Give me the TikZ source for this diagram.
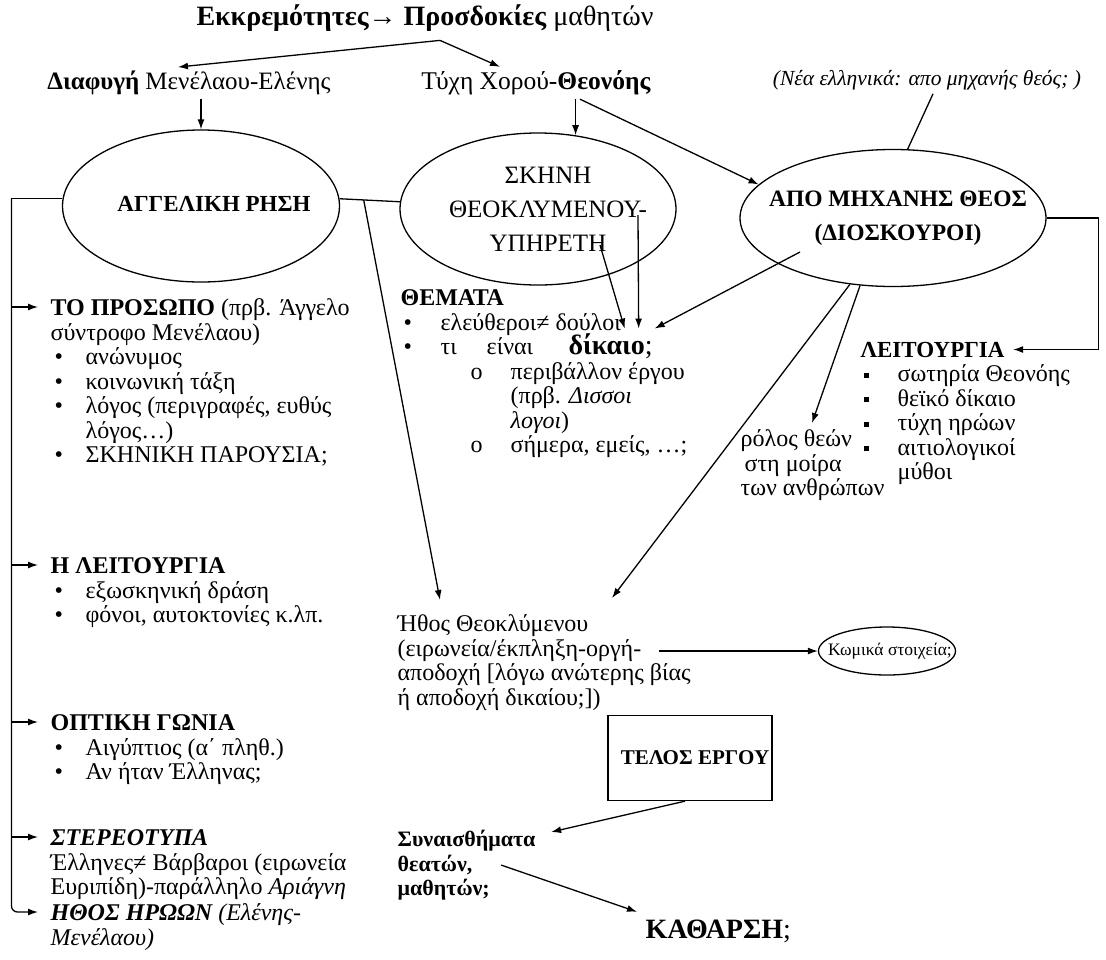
\documentclass[tikz,border=0pt]{standalone}
\usepackage{fontspec}
\setmainfont{Liberation Serif}
\usetikzlibrary{shapes.geometric, arrows.meta, calc}
\newcommand{\itm}[2]{\makebox[#2pt][l]{\hspace{#1pt}•}}
\newcommand{\sqitm}[2]{\makebox[#2pt][l]{\hspace{#1pt}\raisebox{4pt}{\rule{5pt}{5pt}}}}
\newcommand{\zb}[1]{\makebox[0pt]{#1}}

\begin{document}
\begin{tikzpicture}[x=1pt,y=-1pt,>={Latex[length=10pt,width=7pt]},line width=1.3pt,
  txt/.style={inner sep=0pt,align=left,anchor=north west,font=\fontsize{24}{24.5}\selectfont},
  hd/.style={inner sep=0pt,anchor=base west,font=\fontsize{23}{23}\selectfont\bfseries},
  oval/.style={draw,ellipse,inner sep=0pt,align=center}]
  \useasboundingbox (0,0) rectangle (1106,959);

  \node(title) at (425,18) [font=\fontsize{28}{28}\selectfont]{\textbf{Εκκρεμότητες→ Προσδοκίες} μαθητών};
  \node(esc) at (189,83) [font=\fontsize{25}{25}\selectfont]{\textbf{Διαφυγή} Μενέλαου-Ελένης};
  \node(fate) at (536,83) [font=\fontsize{25.5}{25}\selectfont]{Τύχη Χορού-\textbf{Θεονόης}};
  \node(nea) at (927,80) [font=\fontsize{21.5}{22}\selectfont\itshape]{(Νέα ελληνικά: απο μηχανής θεός; )};

  \node(angel) at (201,206) [oval,minimum width=277pt,minimum height=152pt,font=\fontsize{23}{23}\selectfont\bfseries]{\zb{\hspace{26pt}\raisebox{5pt}{ΑΓΓΕΛΙΚΗ ΡΗΣΗ}}};
  \node(scene) at (538,209) [oval,minimum width=276pt,minimum height=152pt,font=\fontsize{25}{34}\selectfont]{\zb{\hspace{20pt}ΣΚΗΝΗ}\\\zb{\hspace{20pt}ΘΕΟΚΛΥΜΕΝΟΥ-}\\\zb{\hspace{20pt}ΥΠΗΡΕΤΗ}};
  \node(deus) at (893,218) [oval,minimum width=306pt,minimum height=137pt,font=\fontsize{23.5}{34}\selectfont\bfseries]{\zb{\hspace{10pt}ΑΠΟ ΜΗΧΑΝΗΣ ΘΕΟΣ}\\\zb{\hspace{10pt}(ΔΙΟΣΚΟΥΡΟΙ)}};

  % θέματα
  \node(themes) at (400,288) [txt]{\strut\textbf{ΘΕΜΑΤΑ}\\ \itm{3}{40}ελεύθεροι≠ δούλοι\\ \itm{3}{40}τι\hspace{30pt}είναι\\ \hspace*{70pt}\makebox[40pt][l]{o}περιβάλλον έργου\\ \hspace*{110pt}(πρβ. \textit{Δισσοι}\\ \hspace*{110pt}\textit{λογοι})\\ \hspace*{70pt}\makebox[40pt][l]{o}σήμερα, εμείς, …;};
  \node(dik) at (568,354) [anchor=base west,inner sep=0pt,font=\fontsize{28}{28}\selectfont\bfseries]{δίκαιο{\mdseries;}};

  % λειτουργία θεών
  \node(lit) at (860,357) [hd]{ΛΕΙΤΟΥΡΓΙΑ};
  \node(litlist) at (862,364) [txt]{\strut\sqitm{1}{35}σωτηρία Θεονόης\\ \sqitm{1}{35}θεϊκό δίκαιο\\ \sqitm{1}{35}τύχη ηρώων\\ \sqitm{1}{35}αιτιολογικοί\\ \hspace*{35pt}μύθοι};
  \node(role) at (740,429) [txt]{\strut ρόλος θεών\\\hspace*{4pt}στη μοίρα\\των ανθρώπων};

  % αριστερή στήλη
  \node(persona) at (50,298) [txt]{\strut\textbf{ΤΟ ΠΡΟΣΩΠΟ} (πρβ. Άγγελο\\σύντροφο Μενέλαου)\\ \itm{4}{35}ανώνυμος\\ \itm{4}{35}κοινωνική τάξη\\ \itm{4}{35}λόγος (περιγραφές, ευθύς\\ \hspace*{35pt}λόγος…)\\ \itm{4}{35}ΣΚΗΝΙΚΗ ΠΑΡΟΥΣΙΑ;};
  \node(func) at (50,556) [txt]{\strut\textbf{Η ΛΕΙΤΟΥΡΓΙΑ}\\ \itm{4}{35}εξωσκηνική δράση\\ \itm{4}{35}φόνοι, αυτοκτονίες κ.λπ.};
  \node(view) at (50,713) [txt]{\strut\textbf{ΟΠΤΙΚΗ ΓΩΝΙΑ}\\ \itm{4}{35}Αιγύπτιος (α΄ πληθ.)\\ \itm{4}{35}Αν ήταν Έλληνας;};
  \node(stereo) at (50,828) [txt]{\strut\textbf{\textit{ΣΤΕΡΕΟΤΥΠΑ}}\\Έλληνες≠ Βάρβαροι (ειρωνεία\\Ευριπίδη)-παράλληλο \textit{Αριάγνη}};
  \node(heroes) at (50,903) [txt]{\strut\textit{\textbf{ΗΘΟΣ ΗΡΩΩΝ} (Ελένης-}\\\textit{Μενέλαου)}};

  % κάτω μέρος
  \node(ethos) at (397,614) [txt]{\strut Ήθος Θεοκλύμενου\\(ειρωνεία/έκπληξη-οργή-\\αποδοχή [λόγω ανώτερης βίας\\ή αποδοχή δικαίου;])};
  \node(comic) at (887,651) [oval,minimum width=137pt,minimum height=48pt,font=\fontsize{17.5}{18}\selectfont]{\zb{\hspace{6pt}Κωμικά στοιχεία;}};
  \node(telos) at (690,758) [draw,minimum width=164pt,minimum height=85pt,font=\fontsize{21}{21}\selectfont\bfseries]{\zb{\hspace{10pt}ΤΕΛΟΣ ΕΡΓΟΥ}};
  \node(feel) at (397,829) [txt,font=\fontsize{22}{24.5}\selectfont\bfseries]{\strut Συναισθήματα\\θεατών,\\μαθητών;};
  \node(kath) at (645,938) [hd,font=\fontsize{28}{28}\selectfont\bfseries]{ΚΑΘΑΡΣΗ{\mdseries;}};

  % βέλη πάνω
  \coordinate(fork) at ([xshift=15pt,yshift=-5pt]title.south);
  \draw[->] (fork) -- ([xshift=-11pt]esc.north);
  \draw[->] (fork) -- ([xshift=-36pt]fate.north);
  \draw[->] (esc.south -| angel.north) -- (angel.north);
  \draw[->] (fate.south -| scene.63) -- (scene.63);
  \draw[->] ([xshift=44pt]fate.south) -- (deus.166);
  \draw ([xshift=6pt]nea.south) -- (deus.78);

  % σύνδεση ελλείψεων
  \draw (angel.3) -- (scene.177);
  \coordinate(jn) at ($(angel.3)!0.4!(scene.177)$);
  \draw[->] (jn) -- ([xshift=43pt,yshift=14pt]ethos.north west);
  \coordinate(trunk) at ([xshift=-51pt]angel.177);
  \draw (angel.177) -- (trunk);
  \foreach \n in {persona,func,view,stereo,heroes}
    \coordinate(\n-h) at ([xshift=-12pt,yshift=-9pt]\n.north west);
  \draw[->,rounded corners=6pt] (trunk) -- (trunk |- heroes-h) -- (heroes-h);
  \foreach \n in {persona,func,view,stereo}
    \draw[->] (trunk |- \n-h) -- (\n-h);

  % προς το δίκαιο
  \draw[->] ([xshift=62pt,yshift=-36pt]scene.center) -- ([xshift=14pt,yshift=4pt]dik.north);
  \draw[->] ([xshift=100pt,yshift=-6pt]scene.center) -- ([xshift=28pt,yshift=4pt]dik.north);
  \draw[->] ([xshift=-93pt,yshift=-34pt]deus.center) -- ([xshift=44pt,yshift=4pt]dik.north);

  % από μηχανής θεός
  \draw[->] (deus.237) -- ([xshift=215pt,yshift=16pt]ethos.north west);
  \draw[->] (deus.244) -- ([xshift=72pt,yshift=6pt]role.north west);
  \coordinate(rt) at ([xshift=52pt]deus.east);
  \draw[->] (deus.east) -- (rt) |- ([xshift=8pt]lit.east);

  \coordinate(er) at ([xshift=-32pt]ethos.east);
  \draw[->] (comic.west -| er) -- (comic.west);
  \draw[->] ([xshift=-5pt]telos.south) -- ([xshift=15pt,yshift=-3pt]feel.north east);
  \draw[->] ([xshift=-35pt]feel.east) -- ([xshift=-8pt,yshift=7pt]kath.north west);
\end{tikzpicture}
\end{document}
